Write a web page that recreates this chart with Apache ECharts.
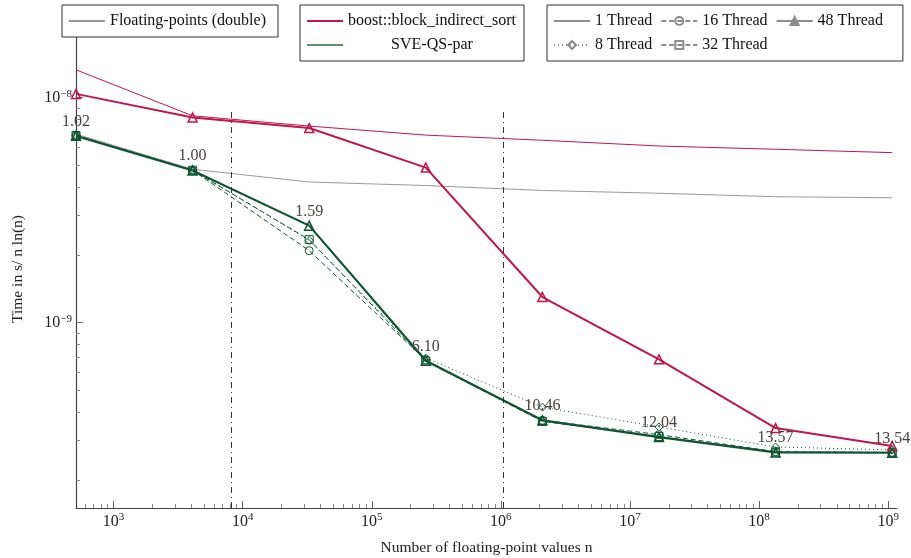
<!DOCTYPE html>
<html>
<head>
<meta charset="utf-8">
<script src="https://cdn.jsdelivr.net/npm/echarts@6/dist/echarts.min.js"></script>
<style>
html, body { margin: 0; padding: 0; background: #fff; }
#main { width: 911px; height: 558px; }
</style>
</head>
<body>
<div id="main"></div>
<script>
// input sizes n = 2^9 ... 2^30
var sizes = [512, 4096, 32768, 262144, 2097152, 16777216, 134217728, 1073741824];

// time in s / (n ln n)
var floatingDouble = [6.89e-9, 4.81e-9, 4.22e-9, 4.07e-9, 3.87e-9, 3.76e-9, 3.63e-9, 3.59e-9];
var boost1 = [1.33e-8, 8.31e-9, 7.48e-9, 6.82e-9, 6.47e-9, 6.10e-9, 5.90e-9, 5.70e-9];
var boost48 = [1.04e-8, 8.17e-9, 7.33e-9, 4.89e-9, 1.30e-9, 6.87e-10, 3.40e-10, 2.83e-10];
var sve8 = [6.80e-9, 4.78e-9, 2.32e-9, 6.96e-10, 4.21e-10, 3.44e-10, 2.80e-10, 2.72e-10];
var sve16 = [6.80e-9, 4.76e-9, 2.09e-9, 6.82e-10, 3.68e-10, 3.18e-10, 2.67e-10, 2.65e-10];
var sve32 = [6.79e-9, 4.76e-9, 2.34e-9, 6.75e-10, 3.64e-10, 3.12e-10, 2.66e-10, 2.65e-10];
var sve48 = [6.77e-9, 4.75e-9, 2.70e-9, 6.77e-10, 3.68e-10, 3.10e-10, 2.65e-10, 2.64e-10];
var speedupLabels = ['1.02', '1.00', '1.59', '6.10', '10.46', '12.04', '13.57', '13.54'];

// dash-dot markers (cache sizes)
var cacheMarks = [8192, 1048576];

var xTicks = [1e3, 1e4, 1e5, 1e6, 1e7, 1e8, 1e9];
var yTicks = [1e-9, 1e-8];

var X_MIN = 512, X_MAX = 1.17e9;
var Y_MIN = 1.5e-10, Y_MAX = 2e-8;

var SERIF = "'Liberation Serif', 'DejaVu Serif', serif";
var RED = '#c2154a';
var GREEN = '#0c5530';
var GREY = '#999999';
var LEGEND_GREY = '#8c8c8c';

function minorTicks(lo, hi) {
    var out = [];
    for (var e = lo; e <= hi; e++) {
        for (var m = 2; m <= 9; m++) out.push(m * Math.pow(10, e));
    }
    return out;
}

function pairs(ys) {
    return sizes.map(function (n, i) { return [n, ys[i]]; });
}

function powLabel(v) {
    var e = Math.round(Math.log10(v));
    return '{b|10}{s|' + String(e).replace('-', '\u2212') + '}';
}

var labelRich = {
    b: { fontFamily: SERIF, fontSize: 16, color: '#222' },
    s: { fontFamily: SERIF, fontSize: 11, color: '#222', verticalAlign: 'bottom', padding: [0, 0, 8, 0] }
};

var myChart = echarts.init(document.getElementById('main'));

var legendBox = {
    top: 5,
    backgroundColor: '#fff',
    borderColor: '#333',
    borderWidth: 1,
    selectedMode: false,
    itemWidth: 36,
    itemHeight: 10,
    itemGap: 8,
    textStyle: { fontFamily: SERIF, fontSize: 16, color: '#111', lineHeight: 16 }
};

var option = {
    animation: false,
    backgroundColor: '#fff',
    grid: { left: 76, right: 14, top: 30, bottom: 50, containLabel: false, outerBoundsMode: 'none' },
    legend: [
        Object.assign({}, legendBox, {
            left: 62,
            padding: [8, 12, 8, 6],
            data: [{ name: 'Floating-points (double)', itemStyle: { opacity: 0 } }]
        }),
        Object.assign({}, legendBox, {
            left: 300,
            orient: 'vertical',
            padding: [8, 8, 8, 6],
            formatter: function (name) { return '{c|' + name + '}'; },
            textStyle: {
                fontFamily: SERIF, fontSize: 16, color: '#111', lineHeight: 16,
                rich: { c: { width: 168, align: 'center', fontFamily: SERIF, fontSize: 16, color: '#111' } }
            },
            data: [
                { name: 'boost::block_indirect_sort', itemStyle: { opacity: 0 } },
                { name: 'SVE-QS-par', itemStyle: { opacity: 0 } }
            ]
        }),
        Object.assign({}, legendBox, {
            left: 547,
            width: 345,
            padding: [8, 20, 8, 6],
            data: [
                { name: '1 Thread', itemStyle: { opacity: 0 } },
                '16 Thread', '48 Thread', '8 Thread', '32 Thread'
            ]
        })
    ],
    xAxis: [{
        type: 'log',
        min: X_MIN,
        max: X_MAX,
        position: 'bottom',
        name: 'Number of floating-point values n',
        nameLocation: 'middle',
        nameGap: 32,
        nameTextStyle: { fontFamily: SERIF, fontSize: 15.5, color: '#222' },
        axisLine: { show: true, lineStyle: { color: '#444', width: 1.2 } },
        axisTick: { show: true, inside: true, length: 7, customValues: xTicks, lineStyle: { color: '#666' } },
        axisLabel: { customValues: xTicks, formatter: powLabel, rich: labelRich, margin: 4 },
        splitLine: { show: false },
        minorTick: { show: false }
    }, {
        type: 'log',
        min: X_MIN,
        max: X_MAX,
        position: 'bottom',
        axisLine: { show: false },
        axisTick: { show: true, inside: true, length: 4, customValues: minorTicks(2, 8), lineStyle: { color: '#888' } },
        axisLabel: { show: false },
        splitLine: { show: false }
    }],
    yAxis: [{
        type: 'log',
        min: Y_MIN,
        max: Y_MAX,
        position: 'left',
        name: 'Time in s/ n ln(n)',
        nameLocation: 'middle',
        nameGap: 50,
        nameTextStyle: { fontFamily: SERIF, fontSize: 15.5, color: '#222' },
        axisLine: { show: true, lineStyle: { color: '#444', width: 1.2 } },
        axisTick: { show: true, inside: true, length: 7, customValues: yTicks, lineStyle: { color: '#666' } },
        axisLabel: { customValues: yTicks, formatter: powLabel, rich: labelRich, margin: 4 },
        splitLine: { show: false }
    }, {
        type: 'log',
        min: Y_MIN,
        max: Y_MAX,
        position: 'left',
        axisLine: { show: false },
        axisTick: { show: true, inside: true, length: 4, customValues: minorTicks(-10, -8), lineStyle: { color: '#888' } },
        axisLabel: { show: false },
        splitLine: { show: false }
    }],
    series: [
        {
            name: 'Floating-points (double)',
            type: 'line',
            data: pairs(floatingDouble),
            symbol: 'none',
            lineStyle: { color: GREY, width: 1 },
            itemStyle: { color: GREY },
            emphasis: { disabled: true },
            z: 2,
            markLine: {
                silent: true,
                symbol: ['none', 'none'],
                label: { show: false },
                lineStyle: { color: '#333', width: 1, type: [6, 4, 1, 4] },
                data: cacheMarks.map(function (c) {
                    return [{ coord: [c, Y_MIN] }, { coord: [c, 8.7e-9] }];
                })
            }
        },
        {
            name: 'boost 1 Thread',
            type: 'line',
            data: pairs(boost1),
            symbol: 'none',
            lineStyle: { color: RED, width: 1 },
            itemStyle: { color: RED },
            emphasis: { disabled: true },
            z: 3
        },
        {
            name: 'boost 48 Thread',
            type: 'line',
            data: pairs(boost48),
            symbol: 'triangle',
            symbolSize: 9,
            lineStyle: { color: RED, width: 2 },
            itemStyle: { color: 'rgba(0,0,0,0)', borderColor: RED, borderWidth: 1.5 },
            emphasis: { disabled: true },
            z: 4
        },
        {
            name: 'SVE 8 Thread',
            type: 'line',
            data: pairs(sve8),
            symbol: 'diamond',
            symbolSize: 8,
            lineStyle: { color: GREEN, width: 1, type: [1, 3] },
            itemStyle: { color: 'rgba(0,0,0,0)', borderColor: GREEN, borderWidth: 1 },
            emphasis: { disabled: true },
            z: 3
        },
        {
            name: 'SVE 16 Thread',
            type: 'line',
            data: pairs(sve16),
            symbol: 'circle',
            symbolSize: 8,
            lineStyle: { color: GREEN, width: 1, type: [5, 3] },
            itemStyle: { color: 'rgba(0,0,0,0)', borderColor: GREEN, borderWidth: 1 },
            emphasis: { disabled: true },
            z: 3
        },
        {
            name: 'SVE 32 Thread',
            type: 'line',
            data: pairs(sve32),
            symbol: 'rect',
            symbolSize: 8,
            lineStyle: { color: GREEN, width: 1, type: [5, 3] },
            itemStyle: { color: 'rgba(0,0,0,0)', borderColor: GREEN, borderWidth: 1 },
            emphasis: { disabled: true },
            z: 3
        },
        {
            name: 'SVE 48 Thread',
            type: 'line',
            data: pairs(sve48),
            symbol: 'triangle',
            symbolSize: 9,
            lineStyle: { color: GREEN, width: 2.2 },
            itemStyle: { color: 'rgba(0,0,0,0)', borderColor: GREEN, borderWidth: 1.5 },
            label: {
                show: true,
                position: 'top',
                distance: 1,
                formatter: function (p) { return speedupLabels[p.dataIndex]; },
                fontFamily: SERIF,
                fontSize: 16,
                color: '#4a4141'
            },
            emphasis: { disabled: true },
            z: 4
        },
        // legend-only entries
        { name: 'boost::block_indirect_sort', type: 'line', data: [], symbol: 'none', lineStyle: { color: RED, width: 1 }, itemStyle: { color: RED } },
        { name: 'SVE-QS-par', type: 'line', data: [], symbol: 'none', lineStyle: { color: '#5f8f6f', width: 1 }, itemStyle: { color: '#5f8f6f' } },
        { name: '1 Thread', type: 'line', data: [], symbol: 'none', lineStyle: { color: LEGEND_GREY, width: 1 }, itemStyle: { color: LEGEND_GREY } },
        { name: '8 Thread', type: 'line', data: [], symbol: 'diamond', lineStyle: { color: LEGEND_GREY, width: 1, type: [1, 3] }, itemStyle: { color: 'rgba(0,0,0,0)', borderColor: LEGEND_GREY, borderWidth: 1 } },
        { name: '16 Thread', type: 'line', data: [], symbol: 'circle', lineStyle: { color: LEGEND_GREY, width: 1, type: [5, 3] }, itemStyle: { color: 'rgba(0,0,0,0)', borderColor: LEGEND_GREY, borderWidth: 1 } },
        { name: '32 Thread', type: 'line', data: [], symbol: 'rect', lineStyle: { color: LEGEND_GREY, width: 1, type: [5, 3] }, itemStyle: { color: 'rgba(0,0,0,0)', borderColor: LEGEND_GREY, borderWidth: 1 } },
        { name: '48 Thread', type: 'line', data: [], symbol: 'triangle', lineStyle: { color: LEGEND_GREY, width: 2 }, itemStyle: { color: LEGEND_GREY, borderColor: LEGEND_GREY, borderWidth: 1 } }
    ]
};

myChart.setOption(option);
</script>
</body>
</html>
